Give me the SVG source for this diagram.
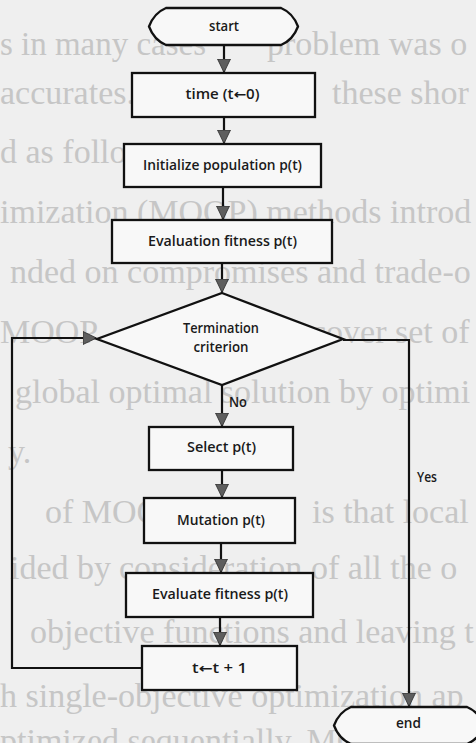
<svg xmlns="http://www.w3.org/2000/svg" width="476" height="743" viewBox="0 0 476 743">
<style>
.bg{font-family:"Liberation Serif","Times New Roman",serif;font-size:34px;fill:#c6c6c6}
.shape{fill:#f8f8f8;stroke:#111;stroke-width:2.3;stroke-linejoin:miter}
.lbl{font-family:"Open Sans","Noto Sans","DejaVu Sans",sans-serif;font-size:13.5px;font-weight:600;fill:#1a1a1a;text-anchor:middle}
.edge{font-family:"Open Sans","Noto Sans","DejaVu Sans",sans-serif;font-size:13.5px;font-weight:600;fill:#1a1a1a}
.conn{fill:none;stroke:#111;stroke-width:2.2}
</style>
<defs>
<marker id="arr" markerUnits="userSpaceOnUse" viewBox="0 0 14 14" markerWidth="14" markerHeight="14" refX="13" refY="7" orient="auto">
<path d="M0,0.5 L13.5,7 L0,13.5 Z" fill="#5e5e5e" stroke="#2a2a2a" stroke-width="0.8"/>
</marker>
</defs>
<rect x="0" y="0" width="476" height="743" fill="#efefef"/>
<g id="page-text">
<text class="bg" x="0" y="55" textLength="206" lengthAdjust="spacingAndGlyphs">s in many cases</text>
<text class="bg" x="267" y="55">problem was o</text>
<text class="bg" x="0" y="104">accurates.</text>
<text class="bg" x="332" y="104">these shor</text>
<text class="bg" x="0" y="163">d as follo</text>
<text class="bg" x="0" y="223">imization (MOOP) methods introd</text>
<text class="bg" x="10" y="283">nded on compromises and trade-o</text>
<text class="bg" x="0" y="343">MOOP</text>
<text class="bg" x="311" y="343">cover set of</text>
<text class="bg" x="15" y="403">global optimal solution by optimi</text>
<text class="bg" x="8" y="463">y.</text>
<text class="bg" x="45" y="523">of MOO</text>
<text class="bg" x="312" y="523">is that local</text>
<text class="bg" x="10" y="579">ided by</text>
<text class="bg" x="119" y="579">consideration</text>
<text class="bg" x="311" y="579">of all the o</text>
<text class="bg" x="30" y="643">objective functions and leaving t</text>
<text class="bg" x="0" y="707">h single-objective optimization ap</text>
<text class="bg" x="0" y="752">ptimized sequentially. MO</text>
</g>
<g id="connectors">
<path class="conn" d="M224,45 V72" marker-end="url(#arr)"/>
<path class="conn" d="M224,117 V143" marker-end="url(#arr)"/>
<path class="conn" d="M223,187 V219" marker-end="url(#arr)"/>
<path class="conn" d="M222,263 V292" marker-end="url(#arr)"/>
<path class="conn" d="M222,385 V426" marker-end="url(#arr)"/>
<path class="conn" d="M222,470 V497" marker-end="url(#arr)"/>
<path class="conn" d="M221,543 V572" marker-end="url(#arr)"/>
<path class="conn" d="M220,617 V645" marker-end="url(#arr)"/>
<path class="conn" d="M142,668 H12 V338 H96" marker-end="url(#arr)"/>
<path class="conn" d="M343,340 H409 V706" marker-end="url(#arr)"/>
<text class="edge" x="229" y="407" textLength="18" lengthAdjust="spacingAndGlyphs">No</text>
<text class="edge" x="417" y="482" textLength="20" lengthAdjust="spacingAndGlyphs">Yes</text>
</g>
<g id="start">
<path class="shape" d="M166,8 H281 Q293,13 298,26.5 Q293,40 281,45 H166 Q154,40 149,26.5 Q154,13 166,8 Z"/>
<text class="lbl" x="224" y="30.5" textLength="30" lengthAdjust="spacingAndGlyphs">start</text>
</g>
<g id="time">
<rect class="shape" x="132" y="73" width="183" height="44"/>
<text class="lbl" x="222.5" y="99" textLength="74" lengthAdjust="spacingAndGlyphs">time (t←0)</text>
</g>
<g id="init">
<rect class="shape" x="124" y="144" width="197" height="43"/>
<text class="lbl" x="222.5" y="170" textLength="159" lengthAdjust="spacingAndGlyphs">Initialize population p(t)</text>
</g>
<g id="evaluation">
<rect class="shape" x="112" y="220" width="220" height="43"/>
<text class="lbl" x="222.5" y="246" textLength="149" lengthAdjust="spacingAndGlyphs">Evaluation fitness p(t)</text>
</g>
<g id="termination">
<path class="shape" d="M222,293 L343,339 L222,385 L97,339 Z"/>
<text class="lbl" x="221" y="333" textLength="76" lengthAdjust="spacingAndGlyphs">Termination</text>
<text class="lbl" x="221" y="352" textLength="55" lengthAdjust="spacingAndGlyphs">criterion</text>
</g>
<g id="select">
<rect class="shape" x="149" y="427" width="144" height="43"/>
<text class="lbl" x="221.5" y="452" textLength="69" lengthAdjust="spacingAndGlyphs">Select p(t)</text>
</g>
<g id="mutation">
<rect class="shape" x="144" y="498" width="151" height="45"/>
<text class="lbl" x="221" y="525" textLength="88" lengthAdjust="spacingAndGlyphs">Mutation p(t)</text>
</g>
<g id="evaluate">
<rect class="shape" x="126" y="573" width="187" height="44"/>
<text class="lbl" x="220" y="599" textLength="136" lengthAdjust="spacingAndGlyphs">Evaluate fitness p(t)</text>
</g>
<g id="increment">
<rect class="shape" x="142" y="646" width="155" height="44"/>
<text class="lbl" x="219.5" y="673" textLength="55" lengthAdjust="spacingAndGlyphs">t←t + 1</text>
</g>
<g id="end">
<path class="shape" d="M351,707 H467 Q479,712 484,725.5 Q479,739 467,744 H351 Q339,739 334,725.5 Q339,712 351,707 Z"/>
<text class="lbl" x="408.5" y="728" textLength="25" lengthAdjust="spacingAndGlyphs">end</text>
</g>
</svg>
